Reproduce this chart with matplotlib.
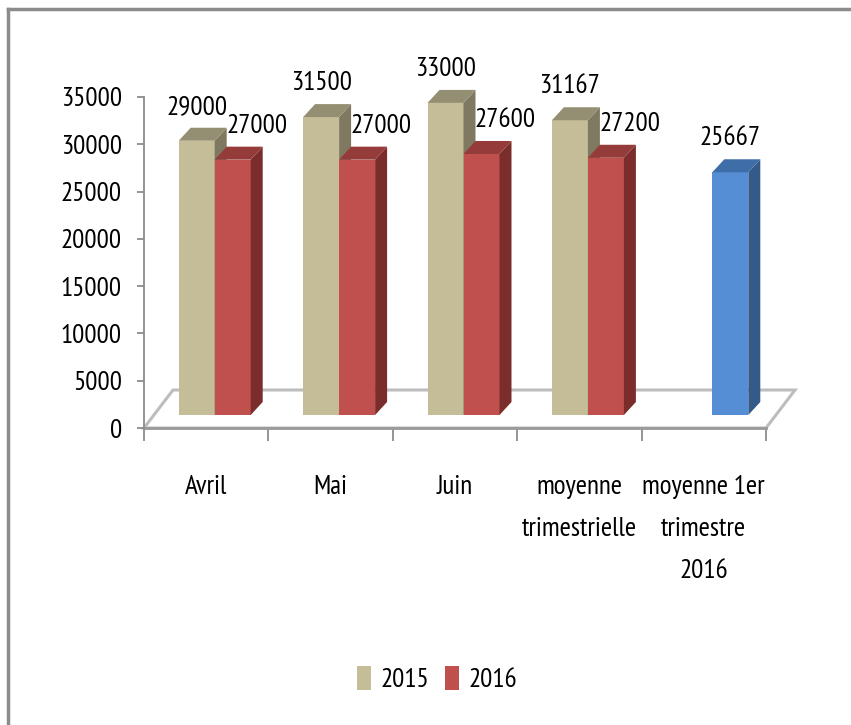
import numpy as np
import matplotlib
matplotlib.use('Agg')
import matplotlib.pyplot as plt
from matplotlib.patches import Polygon, Patch
from matplotlib.lines import Line2D

plt.rcParams['font.family'] = ['PT Sans Narrow', 'Carlito', 'DejaVu Sans']

# data
categories = ['Avril', 'Mai', 'Juin', 'moyenne\ntrimestrielle', 'moyenne 1er\ntrimestre\n2016']
vals_2015 = [29000, 31500, 33000, 31167, np.nan]
vals_2016 = [27000, 27000, 27600, 27200, 25667]
series_names = ['2015', '2016']

# colours: (front, top, side)
TAN = ('#C4BD97', '#948E72', '#7E7960')
RED = ('#C0504D', '#953B39', '#7A2D2B')
BLUE = ('#558ED5', '#3E6DA8', '#335A88')

# fake 3d geometry, in data units (1 category = 124.4 px, 1 px ~ 105.7 in value)
PXV = 35000 / 331.0
PXC = 1 / 124.4
FRONT_DX, FRONT_DY = 8.5 * PXC, 13 * PXV
DEP_DX, DEP_DY = 12 * PXC, 13 * PXV
FLOOR_DX, FLOOR_DY = 29 * PXC, 38 * PXV
BW = 36 * PXC
FS = 19.5

fig = plt.figure(figsize=(8.51, 7.25), dpi=100)
ax = fig.add_axes([144 / 851, (725 - 428) / 725, 622 / 851, 331 / 725])
ax.set_xlim(0, 5)
ax.set_ylim(0, 35000)

# floor
floor = Polygon([(0, 0), (5, 0), (5 + FLOOR_DX, FLOOR_DY), (FLOOR_DX, FLOOR_DY)],
                closed=True, facecolor='white', edgecolor='#BDBDBD', lw=2.2,
                zorder=1, clip_on=False)
ax.add_patch(floor)


def draw_bar(x0, v, cols):
    y0 = FRONT_DY
    ax.bar(x0, v, width=BW, bottom=y0, align='edge', color=cols[0], lw=0, zorder=3)
    top = Polygon([(x0, y0 + v), (x0 + BW, y0 + v), (x0 + BW + DEP_DX, y0 + v + DEP_DY),
                   (x0 + DEP_DX, y0 + v + DEP_DY)], closed=True, facecolor=cols[1],
                  lw=0, zorder=3, clip_on=False)
    side = Polygon([(x0 + BW, y0), (x0 + BW + DEP_DX, y0 + DEP_DY),
                    (x0 + BW + DEP_DX, y0 + v + DEP_DY), (x0 + BW, y0 + v)], closed=True,
                   facecolor=cols[2], lw=0, zorder=3, clip_on=False)
    ax.add_patch(side)
    ax.add_patch(top)


label_dy = 34 * PXV
for i in range(len(categories)):
    xc = i + 0.5 + FRONT_DX
    v1, v2 = vals_2015[i], vals_2016[i]
    if not np.isnan(v1):
        draw_bar(xc - BW, v1, TAN)
        ax.text(xc - BW / 2, FRONT_DY + v1 + label_dy, '{:d}'.format(int(v1)), ha='center',
                va='center', fontsize=FS, clip_on=False, zorder=5)
        draw_bar(xc, v2, RED)
        ax.text(xc + BW / 2 + 24 * PXC, FRONT_DY + v2 + label_dy, '{:d}'.format(int(v2)),
                ha='center', va='center', fontsize=FS, clip_on=False, zorder=5)
    else:
        draw_bar(xc, v2, BLUE)
        ax.text(xc + BW / 2, FRONT_DY + v2 + label_dy, '{:d}'.format(int(v2)),
                ha='center', va='center', fontsize=FS, clip_on=False, zorder=5)

# axes styling
for s in ['top', 'right']:
    ax.spines[s].set_visible(False)
ax.spines['left'].set_color('#8C8C8C')
ax.spines['bottom'].set_color('#9A9A9A')
ax.spines['left'].set_linewidth(1.3)
ax.spines['bottom'].set_linewidth(2.0)
ax.spines['bottom'].set_zorder(2)

ax.set_yticks(range(0, 35001, 5000))
ax.tick_params(axis='y', length=5, width=1.3, color='#8C8C8C', labelsize=FS, pad=11)

ax.set_xticks(np.arange(5) + 0.5)
ax.set_xticklabels(categories, fontsize=FS, linespacing=1.95)
ax.set_xticks(np.arange(6), minor=True)
ax.tick_params(axis='x', which='major', length=0, pad=34)
ax.tick_params(axis='x', which='minor', length=9, width=1.3, color='#8C8C8C')

# legend
handles = [Patch(facecolor=TAN[0], edgecolor='none'), Patch(facecolor=RED[0], edgecolor='none')]
fig.legend(handles, series_names, loc='center', bbox_to_anchor=(437 / 851, 1 - 679 / 725),
           ncol=2, frameon=False, fontsize=FS, handlelength=0.5, handleheight=1.0,
           handletextpad=0.35, columnspacing=0.6)

# outer frame (top and left only visible)
fig.add_artist(Line2D([8 / 851, 8 / 851], [0, 1 - 9 / 725], color='#8C8C8C', lw=2.5,
                      transform=fig.transFigure))
fig.add_artist(Line2D([8 / 851, 1], [1 - 9 / 725, 1 - 9 / 725], color='#8C8C8C', lw=2.5,
                      transform=fig.transFigure))

fig.savefig('out.png', dpi=100)
